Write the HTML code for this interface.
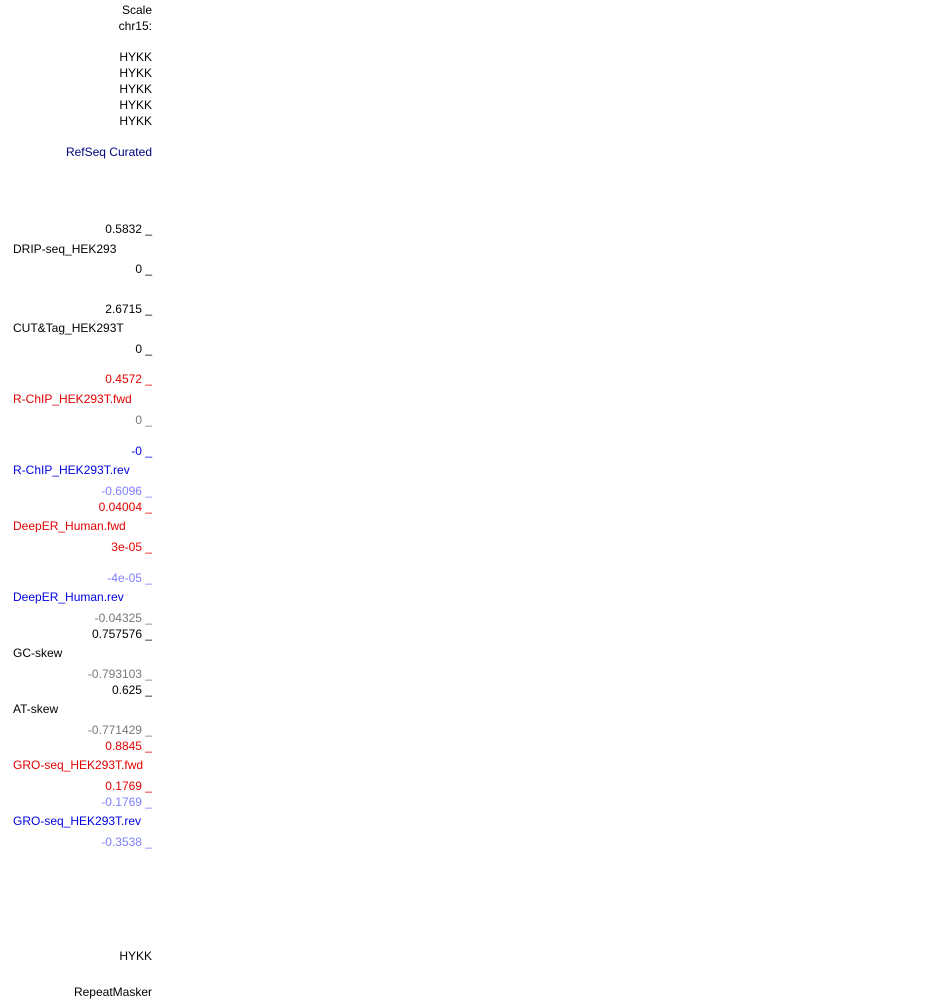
<!DOCTYPE html>
<html><head><meta charset="utf-8"><style>
body{margin:0;width:950px;height:1000px;background:#fff;position:relative;overflow:hidden;font-family:"Liberation Sans",Arial,sans-serif;font-size:12px}
.r,.l{position:absolute;line-height:14px;white-space:pre}
.r{right:798px;text-align:right}
.l{left:13px}
.red{color:#e00000}.blue{color:#0000e0}.lb{color:#7f7fff}.gr{color:#777}.navy{color:#000080}
</style></head><body>
<div class="r" style="top:3px">Scale</div>
<div class="r" style="top:19px">chr15:</div>
<div class="r" style="top:50px">HYKK</div>
<div class="r" style="top:66px">HYKK</div>
<div class="r" style="top:82px">HYKK</div>
<div class="r" style="top:98px">HYKK</div>
<div class="r" style="top:114px">HYKK</div>
<div class="r navy" style="top:145px">RefSeq Curated</div>
<div class="r" style="top:222px">0.5832 _</div>
<div class="l" style="top:242px">DRIP-seq_HEK293</div>
<div class="r" style="top:262px">0 _</div>
<div class="r" style="top:302px">2.6715 _</div>
<div class="l" style="top:321px">CUT&amp;Tag_HEK293T</div>
<div class="r" style="top:342px">0 _</div>
<div class="r red" style="top:372px">0.4572 _</div>
<div class="l red" style="top:392px">R-ChIP_HEK293T.fwd</div>
<div class="r gr" style="top:413px">0 _</div>
<div class="r blue" style="top:444px">-0 _</div>
<div class="l blue" style="top:463px">R-ChIP_HEK293T.rev</div>
<div class="r lb" style="top:484px">-0.6096 _</div>
<div class="r red" style="top:500px">0.04004 _</div>
<div class="l red" style="top:519px">DeepER_Human.fwd</div>
<div class="r red" style="top:540px">3e-05 _</div>
<div class="r lb" style="top:571px">-4e-05 _</div>
<div class="l blue" style="top:590px">DeepER_Human.rev</div>
<div class="r gr" style="top:611px">-0.04325 _</div>
<div class="r" style="top:627px">0.757576 _</div>
<div class="l" style="top:646px">GC-skew</div>
<div class="r gr" style="top:667px">-0.793103 _</div>
<div class="r" style="top:683px">0.625 _</div>
<div class="l" style="top:702px">AT-skew</div>
<div class="r gr" style="top:723px">-0.771429 _</div>
<div class="r red" style="top:739px">0.8845 _</div>
<div class="l red" style="top:758px">GRO-seq_HEK293T.fwd</div>
<div class="r red" style="top:779px">0.1769 _</div>
<div class="r lb" style="top:795px">-0.1769 _</div>
<div class="l blue" style="top:814px">GRO-seq_HEK293T.rev</div>
<div class="r lb" style="top:835px">-0.3538 _</div>
<div class="r" style="top:949px">HYKK</div>
<div class="r" style="top:985px">RepeatMasker</div>
</body></html>
